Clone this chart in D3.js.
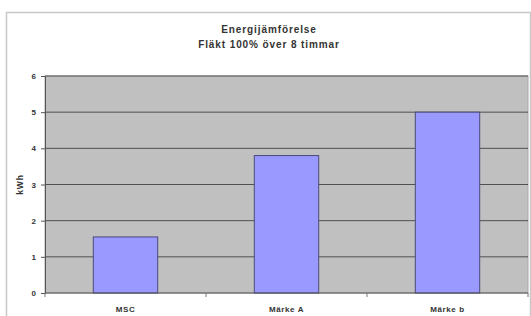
<!DOCTYPE html>
<html><head><meta charset="utf-8">
<script src="https://cdn.jsdelivr.net/npm/d3@7"></script>
<style>body{margin:0;background:#fff}svg{display:block}text{font-family:"Liberation Sans",Arial,sans-serif}</style>
</head><body><svg id="c" width="531" height="316"></svg>
<script>
const categories = ["MSC", "Märke A", "Märke b"];
const values = [1.55, 3.8, 5.0];
const yTicks = [0, 1, 2, 3, 4, 5, 6];
const titleLines = ["Energijämförelse", "Fläkt 100% över 8 timmar"];
const yLabel = "kWh";

const svg = d3.select("#c");
const m = {left: 45, right: 3, top: 76, bottom: 23};
const W = 531, H = 316;
// chart area border
svg.append("rect").attr("x", 6.5).attr("y", 12.5).attr("width", 524).attr("height", 320)
  .attr("fill", "#fff").attr("stroke", "#c8c8c8").attr("stroke-width", 1.5);

const x = d3.scaleBand().domain(categories).range([m.left, W - m.right]).paddingInner(0.6).paddingOuter(0.3);
const y = d3.scaleLinear().domain([0, 6]).range([H - m.bottom, m.top]);

const g = svg.append("g");
g.append("rect").attr("x", m.left).attr("y", m.top).attr("width", W - m.right - m.left).attr("height", y(0) - m.top)
  .attr("fill", "#c0c0c0").attr("stroke", "#a8a8a8");

g.selectAll("line.grid").data(yTicks.filter(d => d > 0)).join("line")
  .attr("x1", m.left).attr("x2", W - m.right).attr("y1", d => y(d)).attr("y2", d => y(d))
  .attr("stroke", "#505050").attr("stroke-width", 1);

g.selectAll("rect.bar").data(values).join("rect").attr("class", "bar")
  .attr("x", (d, i) => x(categories[i])).attr("width", x.bandwidth())
  .attr("y", d => y(d)).attr("height", d => y(0) - y(d))
  .attr("fill", "#9999ff").attr("stroke", "#4a4a7a").attr("stroke-width", 1);

const yAxis = g.append("g").attr("transform", `translate(${m.left},0)`)
  .call(d3.axisLeft(y).tickValues(yTicks).tickFormat(d3.format("d")).tickSize(4).tickPadding(5));
yAxis.select(".domain").attr("stroke", "#555");
yAxis.selectAll(".tick line").attr("stroke", "#555");
yAxis.selectAll("text").attr("font-size", 8).attr("font-weight", "bold").attr("fill", "#333");

// x axis with ticks between categories
const bounds = d3.range(categories.length + 1).map(i => m.left + i * (W - m.right - m.left) / categories.length);
const xa = g.append("g");
xa.append("line").attr("x1", m.left).attr("x2", W - m.right).attr("y1", y(0)).attr("y2", y(0)).attr("stroke", "#555");
xa.selectAll("line.t").data(bounds).join("line").attr("x1", d => d).attr("x2", d => d)
  .attr("y1", y(0)).attr("y2", y(0) + 4).attr("stroke", "#777");
xa.selectAll("text").data(categories).join("text")
  .attr("x", d => x(d) + x.bandwidth() / 2).attr("y", y(0) + 19)
  .attr("text-anchor", "middle").attr("font-size", 8).attr("letter-spacing", 0.6)
  .attr("font-weight", "bold").attr("fill", "#333")
  .text(d => d);

svg.append("text").attr("transform", `translate(23,${(y(0) + m.top) / 2}) rotate(-90)`)
  .attr("text-anchor", "middle").attr("font-size", 8.5).attr("letter-spacing", 0.8)
  .attr("font-weight", "bold").attr("fill", "#333").text(yLabel);

svg.selectAll("text.title").data(titleLines).join("text").attr("class", "title")
  .attr("x", 269).attr("y", (d, i) => 32.5 + i * 15.5).attr("text-anchor", "middle")
  .attr("font-size", 10).attr("letter-spacing", 0.9)
  .attr("font-weight", "bold").attr("fill", "#333").text(d => d);
</script></body></html>
